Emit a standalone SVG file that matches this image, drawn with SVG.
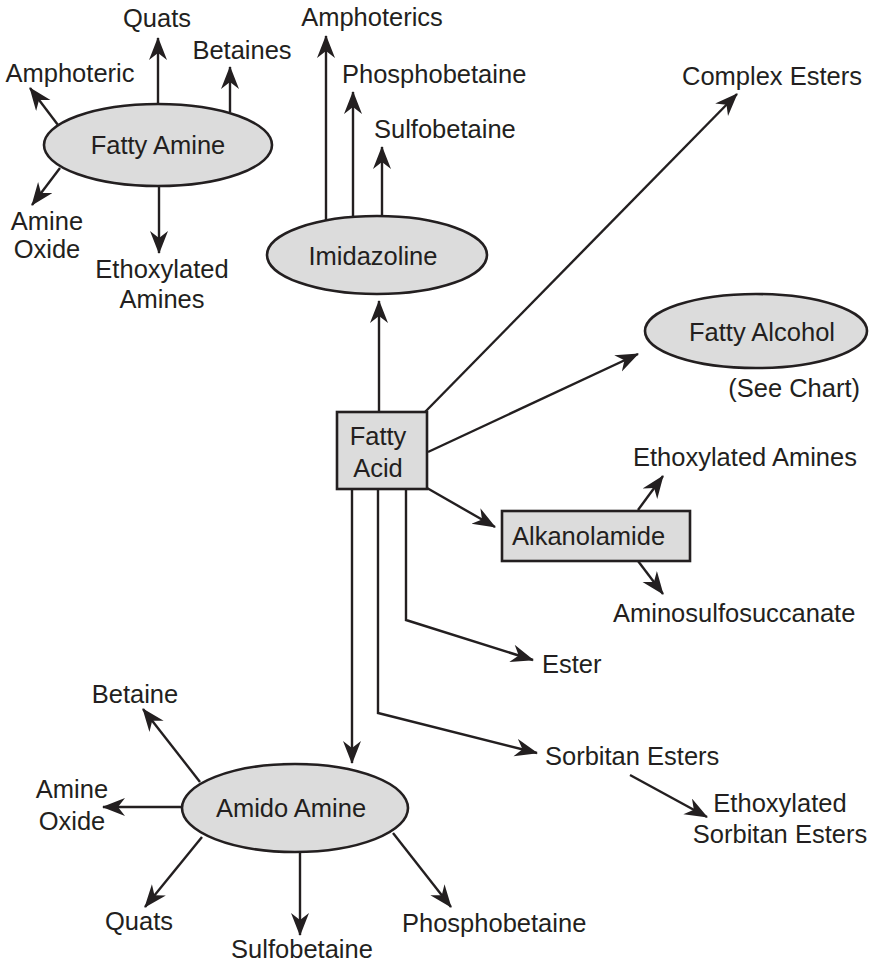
<svg xmlns="http://www.w3.org/2000/svg" width="873" height="967" viewBox="0 0 873 967">
<defs>
<style>
text{font-family:"Liberation Sans",Arial,sans-serif;font-size:25.5px;fill:#231f20}
.m{text-anchor:middle}
.e{text-anchor:end}
.node{fill:#dcdcdc;stroke:#231f20;stroke-width:2.6}
.c{fill:none;stroke:#231f20;stroke-width:2.4;marker-end:url(#ah)}
</style>
<marker id="ah" markerUnits="userSpaceOnUse" markerWidth="26" markerHeight="20" refX="22" refY="9" orient="auto">
<path d="M0,0 L23,9 L0,18 L7,9 Z" fill="#231f20"/>
</marker>
</defs>
<rect width="873" height="967" fill="#fff"/>
<g id="connectors">
<line class="c" x1="158" y1="104" x2="158" y2="38"/>
<line class="c" x1="230" y1="112" x2="230" y2="67"/>
<line class="c" x1="58" y1="125" x2="30" y2="88"/>
<line class="c" x1="60" y1="168" x2="32" y2="205"/>
<line class="c" x1="159" y1="186" x2="159" y2="253"/>
<line class="c" x1="326" y1="220" x2="326" y2="36"/>
<line class="c" x1="353" y1="216" x2="353" y2="92"/>
<line class="c" x1="382" y1="216" x2="382" y2="147"/>
<line class="c" x1="379" y1="412" x2="379" y2="301"/>
<line class="c" x1="425" y1="412" x2="737" y2="94"/>
<line class="c" x1="428" y1="452" x2="638" y2="354"/>
<line class="c" x1="427" y1="488" x2="495" y2="527"/>
<line class="c" x1="638" y1="510" x2="663" y2="476"/>
<line class="c" x1="638" y1="561" x2="663" y2="594"/>
<polyline class="c" points="406,489 406,620 533,660"/>
<polyline class="c" points="378,489 378,713 537,753"/>
<line class="c" x1="352" y1="489" x2="352" y2="763"/>
<line class="c" x1="630" y1="775" x2="707" y2="817"/>
<line class="c" x1="200" y1="782" x2="143" y2="709"/>
<line class="c" x1="182" y1="807" x2="103" y2="807"/>
<line class="c" x1="202" y1="837" x2="145" y2="907"/>
<line class="c" x1="300" y1="852" x2="300" y2="935"/>
<line class="c" x1="393" y1="833" x2="451" y2="907"/>
</g>
<g id="fatty-amine">
<ellipse class="node" cx="158" cy="145" rx="114" ry="41"/>
<text class="m" x="158" y="154">Fatty Amine</text>
</g>
<g id="quats-top"><text class="m" x="157" y="27">Quats</text></g>
<g id="betaines"><text class="m" x="242" y="59">Betaines</text></g>
<g id="amphoteric"><text class="m" x="70" y="82">Amphoteric</text></g>
<g id="amine-oxide-top"><text class="m" x="47" y="230">Amine</text><text class="m" x="47" y="258">Oxide</text></g>
<g id="ethoxylated-amines-top"><text class="m" x="162" y="278">Ethoxylated</text><text class="m" x="162" y="308">Amines</text></g>
<g id="imidazoline">
<ellipse class="node" cx="377" cy="255" rx="110" ry="39"/>
<text class="m" x="373" y="265">Imidazoline</text>
</g>
<g id="amphoterics"><text class="m" x="372" y="26">Amphoterics</text></g>
<g id="phosphobetaine-top"><text x="342" y="83">Phosphobetaine</text></g>
<g id="sulfobetaine-top"><text x="374" y="138">Sulfobetaine</text></g>
<g id="complex-esters"><text x="682" y="85">Complex Esters</text></g>
<g id="fatty-alcohol">
<ellipse class="node" cx="756" cy="331" rx="111" ry="37"/>
<text class="m" x="762" y="341">Fatty Alcohol</text>
<text class="e" x="860" y="397">(See Chart)</text>
</g>
<g id="fatty-acid">
<rect class="node" x="337" y="412" width="90" height="77"/>
<text class="m" x="378" y="445">Fatty</text>
<text class="m" x="378" y="477">Acid</text>
</g>
<g id="alkanolamide">
<rect class="node" x="502" y="511" width="188" height="50"/>
<text x="512" y="545">Alkanolamide</text>
</g>
<g id="ethoxylated-amines-right"><text x="633" y="466">Ethoxylated Amines</text></g>
<g id="aminosulfosuccanate"><text x="613" y="622">Aminosulfosuccanate</text></g>
<g id="ester"><text x="542" y="673">Ester</text></g>
<g id="sorbitan-esters"><text x="545" y="765">Sorbitan Esters</text></g>
<g id="ethoxylated-sorbitan-esters"><text class="m" x="780" y="812">Ethoxylated</text><text class="m" x="780" y="843">Sorbitan Esters</text></g>
<g id="amido-amine">
<ellipse class="node" cx="295" cy="808" rx="113" ry="44"/>
<text class="m" x="291" y="817">Amido Amine</text>
</g>
<g id="betaine"><text class="m" x="135" y="703">Betaine</text></g>
<g id="amine-oxide-bottom"><text class="m" x="72" y="798">Amine</text><text class="m" x="72" y="830">Oxide</text></g>
<g id="quats-bottom"><text class="m" x="139" y="930">Quats</text></g>
<g id="sulfobetaine-bottom"><text class="m" x="302" y="958">Sulfobetaine</text></g>
<g id="phosphobetaine-bottom"><text x="402" y="932">Phosphobetaine</text></g>
</svg>
